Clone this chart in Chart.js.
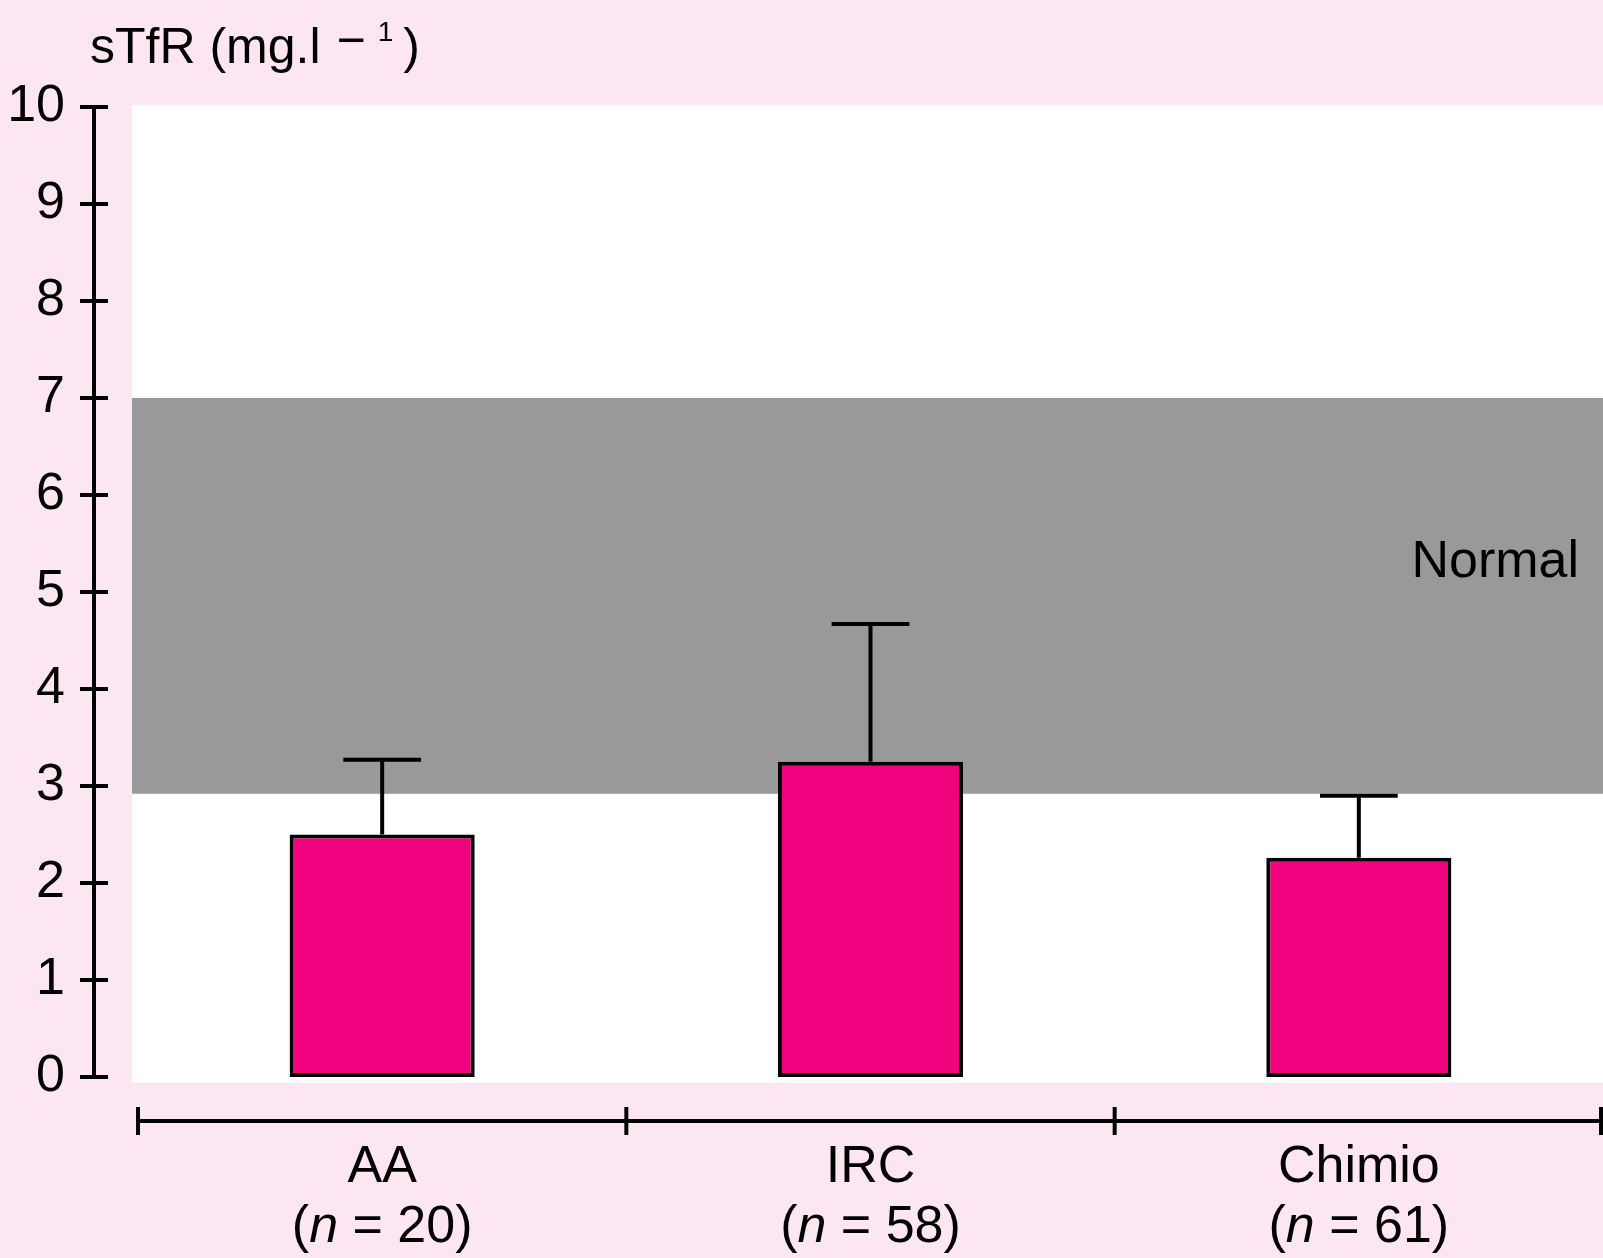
<!DOCTYPE html>
<html>
<head>
<meta charset="utf-8">
<title>sTfR</title>
<script src="https://cdn.jsdelivr.net/npm/chart.js@4/dist/chart.umd.min.js"></script>
<style>
  html, body { margin: 0; padding: 0; background: #fce6f2; }
  #wrap { position: relative; width: 1603px; height: 1258px; }
  canvas { display: block; }
</style>
</head>
<body>
<div id="wrap"><canvas id="chart" width="1603" height="1258"></canvas></div>
<script>
// Groups, group sizes and measured sTfR values (mg/l)
const categories = ['AA', 'IRC', 'Chimio'];
const groupSizes = [20, 58, 61];
const meanValues = [2.50, 3.25, 2.26];
const upperValues = [3.27, 4.67, 2.90];   // mean + SD (top of the whisker)
const normalRange = [2.92, 7];            // shaded normal band
const normalLabel = 'Normal';
const yMin = 0;
const yMax = 10;
const yStep = 1;

const FONT = '"Liberation Sans", Arial, Helvetica, sans-serif';
const INK = '#000000';

// Layout constants (pixels)
const AXIS_X = 94;          // vertical axis line
const X_AXIS_Y = 1121;      // horizontal axis line
const LINE_W = 4;

const decor = {
  id: 'decor',
  beforeDatasetsDraw(chart) {
    const { ctx, chartArea: a, scales: { y } } = chart;
    ctx.save();
    // white plotting panel
    ctx.fillStyle = '#ffffff';
    ctx.fillRect(a.left - 6, a.top - 2, a.right - a.left + 6, a.bottom - a.top + 8);
    // normal range band
    const top = y.getPixelForValue(normalRange[1]);
    const bot = y.getPixelForValue(normalRange[0]);
    ctx.fillStyle = '#999999';
    ctx.fillRect(a.left - 6, top, a.right - a.left + 6, bot - top);
    // band label
    ctx.fillStyle = INK;
    ctx.font = `52px ${FONT}`;
    ctx.textAlign = 'right';
    ctx.textBaseline = 'alphabetic';
    ctx.fillText(normalLabel, a.right - 24, y.getPixelForValue(5.15));
    ctx.restore();
  },
  afterDatasetsDraw(chart) {
    const { ctx, scales: { y } } = chart;
    const meta = chart.getDatasetMeta(0);
    ctx.save();
    ctx.strokeStyle = INK;
    ctx.lineWidth = LINE_W;
    ctx.lineCap = 'butt';
    meta.data.forEach((bar, i) => {
      const x = bar.x;
      const yTop = y.getPixelForValue(upperValues[i]);
      const half = bar.width * 0.21;
      ctx.beginPath();
      ctx.moveTo(x, bar.y);
      ctx.lineTo(x, yTop);
      ctx.moveTo(x - half, yTop);
      ctx.lineTo(x + half, yTop);
      ctx.stroke();
    });
    ctx.restore();
  },
  afterDraw(chart) {
    const { ctx, scales: { x, y } } = chart;
    ctx.save();
    ctx.strokeStyle = INK;
    ctx.fillStyle = INK;
    ctx.lineWidth = LINE_W;

    // vertical axis with crossing tick marks
    ctx.beginPath();
    ctx.moveTo(AXIS_X, y.getPixelForValue(yMax) - 2);
    ctx.lineTo(AXIS_X, y.getPixelForValue(yMin) + 2);
    y.ticks.forEach(t => {
      const py = y.getPixelForValue(t.value);
      ctx.moveTo(AXIS_X - 14, py);
      ctx.lineTo(AXIS_X + 14, py);
    });
    ctx.stroke();

    // horizontal axis with group boundary marks
    const step = x.getPixelForValue(1) - x.getPixelForValue(0);
    const first = x.getPixelForValue(0) - step / 2;
    ctx.beginPath();
    ctx.moveTo(first, X_AXIS_Y);
    ctx.lineTo(first + step * categories.length, X_AXIS_Y);
    for (let i = 0; i <= categories.length; i++) {
      const bx = Math.min(first + step * i, chart.width - 2);
      ctx.moveTo(bx, X_AXIS_Y - 14);
      ctx.lineTo(bx, X_AXIS_Y + 14);
    }
    ctx.stroke();

    // group labels: name, then (n = …) with italic n
    ctx.textBaseline = 'alphabetic';
    categories.forEach((name, i) => {
      const cx = x.getPixelForValue(i);
      ctx.font = `52px ${FONT}`;
      ctx.textAlign = 'center';
      ctx.fillText(name, cx, 1182);

      const pOpen = '(';
      const pN = 'n';
      const pRest = ` = ${groupSizes[i]})`;
      ctx.font = `52px ${FONT}`;
      const wOpen = ctx.measureText(pOpen).width;
      const wRest = ctx.measureText(pRest).width;
      ctx.font = `italic 52px ${FONT}`;
      const wN = ctx.measureText(pN).width;
      let lx = cx - (wOpen + wN + wRest) / 2;
      ctx.textAlign = 'left';
      ctx.font = `52px ${FONT}`;
      ctx.fillText(pOpen, lx, 1242);
      lx += wOpen;
      ctx.font = `italic 52px ${FONT}`;
      ctx.fillText(pN, lx, 1242);
      lx += wN;
      ctx.font = `52px ${FONT}`;
      ctx.fillText(pRest, lx, 1242);
    });

    // axis title: sTfR (mg.l − 1) with raised exponent
    ctx.textAlign = 'left';
    let tx = 90;
    const tb = 63;
    ctx.font = `50px ${FONT}`;
    const head = 'sTfR (mg.l';
    ctx.fillText(head, tx, tb);
    tx += ctx.measureText(head).width + 16;
    ctx.fillText('\u2212', tx, tb - 6);
    tx += ctx.measureText('\u2212').width + 12;
    ctx.font = `28px ${FONT}`;
    ctx.fillText('1', tx, tb - 22);
    tx += ctx.measureText('1').width + 10;
    ctx.font = `50px ${FONT}`;
    ctx.fillText(')', tx, tb);

    ctx.restore();
  }
};

new Chart(document.getElementById('chart'), {
  type: 'bar',
  data: {
    labels: categories,
    datasets: [{
      data: meanValues,
      backgroundColor: '#f0027f',
      borderColor: INK,
      borderWidth: LINE_W,
      borderSkipped: false,
      barPercentage: 1,
      categoryPercentage: 0.379
    }]
  },
  options: {
    responsive: false,
    animation: false,
    events: [],
    layout: { padding: { top: 107, bottom: 181, left: 0, right: 0 } },
    plugins: {
      legend: { display: false },
      tooltip: { enabled: false },
      title: { display: false }
    },
    scales: {
      x: { display: false },
      y: {
        min: yMin,
        max: yMax,
        afterFit(scale) { scale.width = 138; },
        grid: { display: false, drawTicks: false },
        border: { display: false },
        ticks: {
          stepSize: yStep,
          padding: 73,
          color: INK,
          font: { family: FONT, size: 52 }
        }
      }
    }
  },
  plugins: [decor]
});
</script>
</body>
</html>
